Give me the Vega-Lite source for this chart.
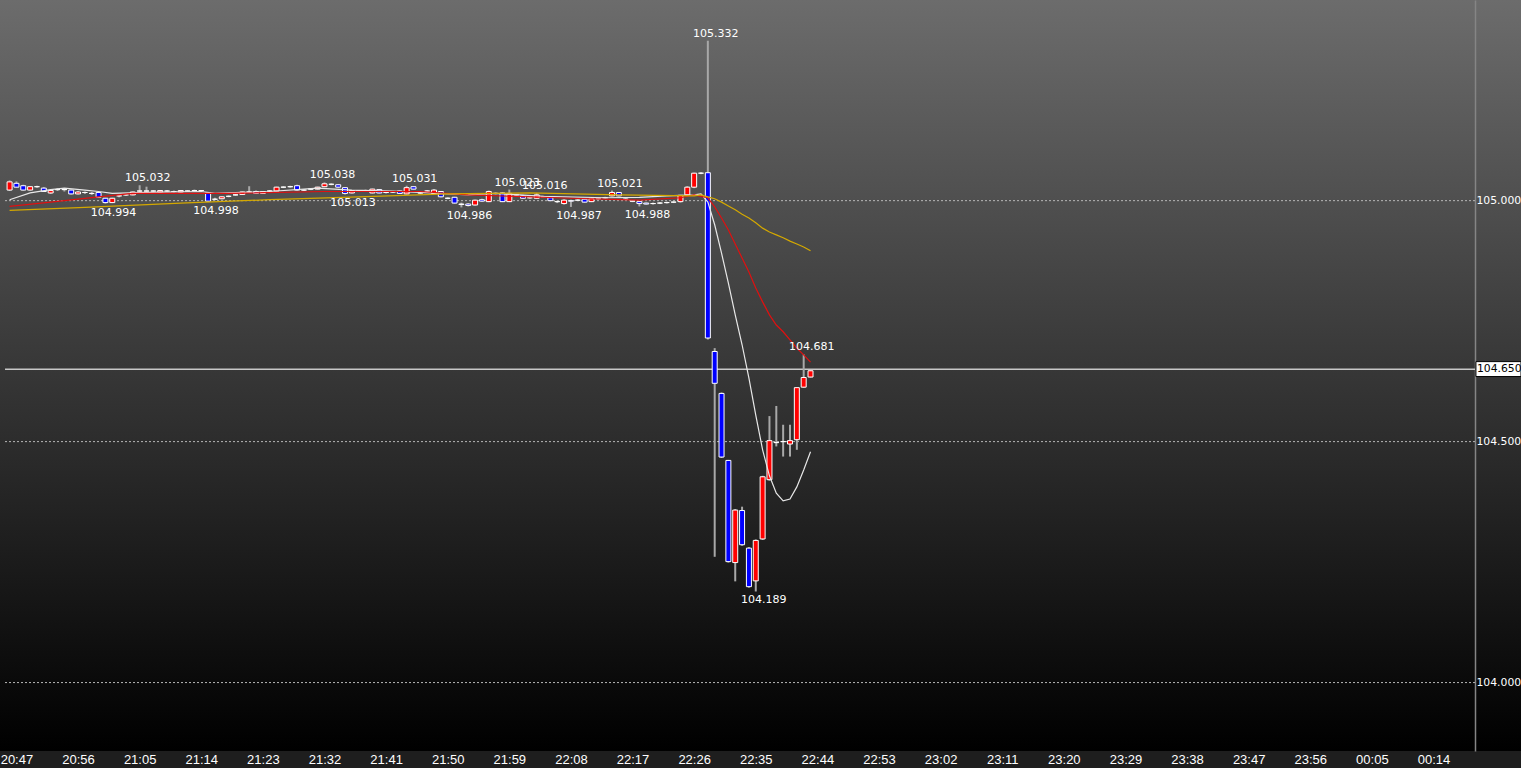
{
  "$schema": "https://vega.github.io/schema/vega-lite/v6.json",
  "width": 1521,
  "height": 751,
  "autosize": "none",
  "padding": {"left": 0, "top": 0, "right": 0, "bottom": 17},
  "background": "#1e1e1e",
  "config": {
    "view": {
      "stroke": null,
      "fill": {"gradient": "linear", "x1": 0, "y1": 0, "x2": 0, "y2": 1,
        "stops": [{"offset": 0, "color": "#6c6c6c"}, {"offset": 1, "color": "#000000"}]}
    },
    "text": {"font": "DejaVu Sans", "fontSize": 11}
  },
  "datasets": {
    "candles": [
      {"t":"2024-01-01T20:46","o":105.022,"h":105.042,"l":105.020,"c":105.039},
      {"t":"2024-01-01T20:47","o":105.036,"h":105.040,"l":105.027,"c":105.028},
      {"t":"2024-01-01T20:48","o":105.031,"h":105.033,"l":105.021,"c":105.022},
      {"t":"2024-01-01T20:49","o":105.022,"h":105.030,"l":105.021,"c":105.029},
      {"t":"2024-01-01T20:50","o":105.029,"h":105.031,"l":105.027,"c":105.029},
      {"t":"2024-01-01T20:51","o":105.026,"h":105.028,"l":105.018,"c":105.019},
      {"t":"2024-01-01T20:52","o":105.016,"h":105.023,"l":105.014,"c":105.021},
      {"t":"2024-01-01T20:53","o":105.023,"h":105.026,"l":105.020,"c":105.023},
      {"t":"2024-01-01T20:54","o":105.023,"h":105.025,"l":105.019,"c":105.023},
      {"t":"2024-01-01T20:55","o":105.022,"h":105.023,"l":105.013,"c":105.014},
      {"t":"2024-01-01T20:56","o":105.014,"h":105.020,"l":105.013,"c":105.018},
      {"t":"2024-01-01T20:57","o":105.017,"h":105.019,"l":105.014,"c":105.017},
      {"t":"2024-01-01T20:58","o":105.015,"h":105.018,"l":105.012,"c":105.015},
      {"t":"2024-01-01T20:59","o":105.017,"h":105.018,"l":105.006,"c":105.007},
      {"t":"2024-01-01T21:00","o":105.005,"h":105.006,"l":104.994,"c":104.996},
      {"t":"2024-01-01T21:01","o":104.996,"h":105.006,"l":104.995,"c":105.005},
      {"t":"2024-01-01T21:02","o":105.010,"h":105.012,"l":105.007,"c":105.010},
      {"t":"2024-01-01T21:03","o":105.012,"h":105.014,"l":105.010,"c":105.012},
      {"t":"2024-01-01T21:04","o":105.012,"h":105.019,"l":105.011,"c":105.018},
      {"t":"2024-01-01T21:05","o":105.020,"h":105.032,"l":105.018,"c":105.020},
      {"t":"2024-01-01T21:06","o":105.020,"h":105.029,"l":105.018,"c":105.020},
      {"t":"2024-01-01T21:07","o":105.020,"h":105.022,"l":105.017,"c":105.020},
      {"t":"2024-01-01T21:08","o":105.018,"h":105.022,"l":105.017,"c":105.021},
      {"t":"2024-01-01T21:09","o":105.020,"h":105.022,"l":105.018,"c":105.020},
      {"t":"2024-01-01T21:10","o":105.019,"h":105.021,"l":105.017,"c":105.019},
      {"t":"2024-01-01T21:11","o":105.018,"h":105.022,"l":105.017,"c":105.021},
      {"t":"2024-01-01T21:12","o":105.020,"h":105.022,"l":105.018,"c":105.020},
      {"t":"2024-01-01T21:13","o":105.021,"h":105.023,"l":105.019,"c":105.021},
      {"t":"2024-01-01T21:14","o":105.021,"h":105.022,"l":105.019,"c":105.021},
      {"t":"2024-01-01T21:15","o":105.016,"h":105.017,"l":104.998,"c":104.999},
      {"t":"2024-01-01T21:16","o":105.003,"h":105.006,"l":105.001,"c":105.003},
      {"t":"2024-01-01T21:17","o":105.004,"h":105.009,"l":105.003,"c":105.008},
      {"t":"2024-01-01T21:18","o":105.009,"h":105.011,"l":105.007,"c":105.009},
      {"t":"2024-01-01T21:19","o":105.012,"h":105.014,"l":105.010,"c":105.012},
      {"t":"2024-01-01T21:20","o":105.013,"h":105.019,"l":105.012,"c":105.018},
      {"t":"2024-01-01T21:21","o":105.018,"h":105.030,"l":105.017,"c":105.018},
      {"t":"2024-01-01T21:22","o":105.019,"h":105.021,"l":105.014,"c":105.015},
      {"t":"2024-01-01T21:23","o":105.015,"h":105.020,"l":105.014,"c":105.019},
      {"t":"2024-01-01T21:24","o":105.020,"h":105.022,"l":105.018,"c":105.020},
      {"t":"2024-01-01T21:25","o":105.020,"h":105.029,"l":105.019,"c":105.028},
      {"t":"2024-01-01T21:26","o":105.028,"h":105.030,"l":105.026,"c":105.028},
      {"t":"2024-01-01T21:27","o":105.029,"h":105.031,"l":105.027,"c":105.029},
      {"t":"2024-01-01T21:28","o":105.031,"h":105.033,"l":105.021,"c":105.022},
      {"t":"2024-01-01T21:29","o":105.022,"h":105.024,"l":105.020,"c":105.022},
      {"t":"2024-01-01T21:30","o":105.024,"h":105.026,"l":105.022,"c":105.024},
      {"t":"2024-01-01T21:31","o":105.024,"h":105.029,"l":105.023,"c":105.028},
      {"t":"2024-01-01T21:32","o":105.029,"h":105.038,"l":105.028,"c":105.035},
      {"t":"2024-01-01T21:33","o":105.034,"h":105.036,"l":105.032,"c":105.034},
      {"t":"2024-01-01T21:34","o":105.033,"h":105.034,"l":105.027,"c":105.028},
      {"t":"2024-01-01T21:35","o":105.027,"h":105.028,"l":105.013,"c":105.015},
      {"t":"2024-01-01T21:36","o":105.016,"h":105.022,"l":105.015,"c":105.021},
      {"t":"2024-01-01T21:37","o":105.020,"h":105.022,"l":105.018,"c":105.020},
      {"t":"2024-01-01T21:38","o":105.021,"h":105.023,"l":105.019,"c":105.021},
      {"t":"2024-01-01T21:39","o":105.016,"h":105.025,"l":105.015,"c":105.024},
      {"t":"2024-01-01T21:40","o":105.023,"h":105.024,"l":105.015,"c":105.016},
      {"t":"2024-01-01T21:41","o":105.017,"h":105.019,"l":105.015,"c":105.017},
      {"t":"2024-01-01T21:42","o":105.018,"h":105.020,"l":105.016,"c":105.018},
      {"t":"2024-01-01T21:43","o":105.020,"h":105.021,"l":105.014,"c":105.015},
      {"t":"2024-01-01T21:44","o":105.014,"h":105.031,"l":105.013,"c":105.027},
      {"t":"2024-01-01T21:45","o":105.029,"h":105.030,"l":105.023,"c":105.024},
      {"t":"2024-01-01T21:46","o":105.016,"h":105.018,"l":105.014,"c":105.016},
      {"t":"2024-01-01T21:47","o":105.020,"h":105.022,"l":105.018,"c":105.020},
      {"t":"2024-01-01T21:48","o":105.015,"h":105.024,"l":105.014,"c":105.022},
      {"t":"2024-01-01T21:49","o":105.019,"h":105.020,"l":105.007,"c":105.008},
      {"t":"2024-01-01T21:50","o":105.005,"h":105.007,"l":105.003,"c":105.005},
      {"t":"2024-01-01T21:51","o":105.007,"h":105.008,"l":104.994,"c":104.995},
      {"t":"2024-01-01T21:52","o":104.993,"h":104.996,"l":104.986,"c":104.992},
      {"t":"2024-01-01T21:53","o":104.993,"h":104.995,"l":104.988,"c":104.990},
      {"t":"2024-01-01T21:54","o":104.991,"h":105.002,"l":104.990,"c":105.001},
      {"t":"2024-01-01T21:55","o":105.002,"h":105.004,"l":104.998,"c":104.999},
      {"t":"2024-01-01T21:56","o":104.998,"h":105.021,"l":104.997,"c":105.019},
      {"t":"2024-01-01T21:57","o":105.015,"h":105.017,"l":105.013,"c":105.015},
      {"t":"2024-01-01T21:58","o":105.016,"h":105.018,"l":104.997,"c":104.998},
      {"t":"2024-01-01T21:59","o":104.998,"h":105.023,"l":104.997,"c":105.015},
      {"t":"2024-01-01T22:00","o":105.012,"h":105.014,"l":105.010,"c":105.012},
      {"t":"2024-01-01T22:01","o":105.010,"h":105.012,"l":105.004,"c":105.005},
      {"t":"2024-01-01T22:02","o":105.006,"h":105.008,"l":105.004,"c":105.006},
      {"t":"2024-01-01T22:03","o":105.005,"h":105.016,"l":105.004,"c":105.012},
      {"t":"2024-01-01T22:04","o":105.008,"h":105.010,"l":105.006,"c":105.008},
      {"t":"2024-01-01T22:05","o":105.006,"h":105.007,"l":104.999,"c":105.000},
      {"t":"2024-01-01T22:06","o":104.998,"h":105.000,"l":104.995,"c":104.998},
      {"t":"2024-01-01T22:07","o":104.994,"h":105.003,"l":104.992,"c":105.001},
      {"t":"2024-01-01T22:08","o":105.000,"h":105.002,"l":104.987,"c":104.999},
      {"t":"2024-01-01T22:09","o":105.001,"h":105.003,"l":104.999,"c":105.001},
      {"t":"2024-01-01T22:10","o":105.003,"h":105.004,"l":104.996,"c":104.997},
      {"t":"2024-01-01T22:11","o":104.998,"h":105.005,"l":104.997,"c":105.004},
      {"t":"2024-01-01T22:12","o":105.004,"h":105.006,"l":105.002,"c":105.004},
      {"t":"2024-01-01T22:13","o":105.006,"h":105.008,"l":105.004,"c":105.006},
      {"t":"2024-01-01T22:14","o":105.010,"h":105.021,"l":105.009,"c":105.017},
      {"t":"2024-01-01T22:15","o":105.017,"h":105.018,"l":105.009,"c":105.010},
      {"t":"2024-01-01T22:16","o":105.003,"h":105.005,"l":105.001,"c":105.003},
      {"t":"2024-01-01T22:17","o":104.999,"h":105.001,"l":104.997,"c":104.999},
      {"t":"2024-01-01T22:18","o":104.998,"h":104.999,"l":104.988,"c":104.994},
      {"t":"2024-01-01T22:19","o":104.995,"h":104.996,"l":104.992,"c":104.993},
      {"t":"2024-01-01T22:20","o":104.994,"h":104.996,"l":104.992,"c":104.994},
      {"t":"2024-01-01T22:21","o":104.995,"h":104.997,"l":104.993,"c":104.995},
      {"t":"2024-01-01T22:22","o":104.996,"h":104.998,"l":104.994,"c":104.996},
      {"t":"2024-01-01T22:23","o":104.997,"h":104.999,"l":104.995,"c":104.997},
      {"t":"2024-01-01T22:24","o":104.998,"h":105.012,"l":104.996,"c":105.011},
      {"t":"2024-01-01T22:25","o":105.012,"h":105.030,"l":105.010,"c":105.028},
      {"t":"2024-01-01T22:26","o":105.028,"h":105.058,"l":105.026,"c":105.057},
      {"t":"2024-01-01T22:27","o":105.057,"h":105.059,"l":105.055,"c":105.057},
      {"t":"2024-01-01T22:28","o":105.058,"h":105.332,"l":104.712,"c":104.715},
      {"t":"2024-01-01T22:29","o":104.687,"h":104.694,"l":104.261,"c":104.621},
      {"t":"2024-01-01T22:30","o":104.600,"h":104.602,"l":104.466,"c":104.468},
      {"t":"2024-01-01T22:31","o":104.461,"h":104.462,"l":104.249,"c":104.251},
      {"t":"2024-01-01T22:32","o":104.249,"h":104.360,"l":104.210,"c":104.358},
      {"t":"2024-01-01T22:33","o":104.357,"h":104.365,"l":104.284,"c":104.286},
      {"t":"2024-01-01T22:34","o":104.279,"h":104.281,"l":104.197,"c":104.199},
      {"t":"2024-01-01T22:35","o":104.211,"h":104.297,"l":104.189,"c":104.295},
      {"t":"2024-01-01T22:36","o":104.298,"h":104.429,"l":104.296,"c":104.427},
      {"t":"2024-01-01T22:37","o":104.421,"h":104.553,"l":104.419,"c":104.502},
      {"t":"2024-01-01T22:38","o":104.498,"h":104.574,"l":104.490,"c":104.498},
      {"t":"2024-01-01T22:39","o":104.500,"h":104.535,"l":104.469,"c":104.500},
      {"t":"2024-01-01T22:40","o":104.495,"h":104.535,"l":104.469,"c":104.502},
      {"t":"2024-01-01T22:41","o":104.504,"h":104.612,"l":104.483,"c":104.612},
      {"t":"2024-01-01T22:42","o":104.613,"h":104.681,"l":104.612,"c":104.633},
      {"t":"2024-01-01T22:43","o":104.634,"h":104.648,"l":104.633,"c":104.647}
    ],
    "ma": [
      {"s":"fast","t":"2024-01-01T20:46","v":105.002},{"s":"fast","t":"2024-01-01T20:49","v":105.016},{"s":"fast","t":"2024-01-01T20:52","v":105.023},
      {"s":"fast","t":"2024-01-01T20:54","v":105.026},{"s":"fast","t":"2024-01-01T20:57","v":105.022},{"s":"fast","t":"2024-01-01T20:59","v":105.019},
      {"s":"fast","t":"2024-01-01T21:01","v":105.015},{"s":"fast","t":"2024-01-01T21:06","v":105.017},{"s":"fast","t":"2024-01-01T21:14","v":105.019},
      {"s":"fast","t":"2024-01-01T21:16","v":105.015},{"s":"fast","t":"2024-01-01T21:20","v":105.017},{"s":"fast","t":"2024-01-01T21:24","v":105.019},
      {"s":"fast","t":"2024-01-01T21:31","v":105.026},{"s":"fast","t":"2024-01-01T21:36","v":105.022},{"s":"fast","t":"2024-01-01T21:42","v":105.020},
      {"s":"fast","t":"2024-01-01T21:49","v":105.015},{"s":"fast","t":"2024-01-01T21:53","v":105.012},{"s":"fast","t":"2024-01-01T21:57","v":105.015},
      {"s":"fast","t":"2024-01-01T22:04","v":105.009},{"s":"fast","t":"2024-01-01T22:13","v":105.006},{"s":"fast","t":"2024-01-01T22:18","v":105.007},
      {"s":"fast","t":"2024-01-01T22:22","v":105.010},{"s":"fast","t":"2024-01-01T22:26","v":105.012},{"s":"fast","t":"2024-01-01T22:27","v":105.014},
      {"s":"fast","t":"2024-01-01T22:28","v":104.997},{"s":"fast","t":"2024-01-01T22:29","v":104.950},{"s":"fast","t":"2024-01-01T22:30","v":104.891},
      {"s":"fast","t":"2024-01-01T22:31","v":104.829},{"s":"fast","t":"2024-01-01T22:32","v":104.763},{"s":"fast","t":"2024-01-01T22:33","v":104.701},
      {"s":"fast","t":"2024-01-01T22:34","v":104.632},{"s":"fast","t":"2024-01-01T22:35","v":104.555},{"s":"fast","t":"2024-01-01T22:36","v":104.483},
      {"s":"fast","t":"2024-01-01T22:37","v":104.429},{"s":"fast","t":"2024-01-01T22:38","v":104.393},{"s":"fast","t":"2024-01-01T22:39","v":104.377},
      {"s":"fast","t":"2024-01-01T22:40","v":104.381},{"s":"fast","t":"2024-01-01T22:41","v":104.406},{"s":"fast","t":"2024-01-01T22:42","v":104.441},
      {"s":"fast","t":"2024-01-01T22:43","v":104.479},
      {"s":"mid","t":"2024-01-01T20:46","v":104.988},{"s":"mid","t":"2024-01-01T20:52","v":104.997},{"s":"mid","t":"2024-01-01T20:59","v":105.008},
      {"s":"mid","t":"2024-01-01T21:04","v":105.015},{"s":"mid","t":"2024-01-01T21:18","v":105.015},{"s":"mid","t":"2024-01-01T21:32","v":105.019},
      {"s":"mid","t":"2024-01-01T21:46","v":105.019},{"s":"mid","t":"2024-01-01T21:53","v":105.012},{"s":"mid","t":"2024-01-01T22:08","v":105.005},
      {"s":"mid","t":"2024-01-01T22:18","v":105.001},{"s":"mid","t":"2024-01-01T22:24","v":105.006},{"s":"mid","t":"2024-01-01T22:26","v":105.012},
      {"s":"mid","t":"2024-01-01T22:27","v":105.009},{"s":"mid","t":"2024-01-01T22:28","v":105.006},{"s":"mid","t":"2024-01-01T22:29","v":104.987},
      {"s":"mid","t":"2024-01-01T22:30","v":104.964},{"s":"mid","t":"2024-01-01T22:31","v":104.939},{"s":"mid","t":"2024-01-01T22:32","v":104.910},
      {"s":"mid","t":"2024-01-01T22:33","v":104.881},{"s":"mid","t":"2024-01-01T22:34","v":104.852},{"s":"mid","t":"2024-01-01T22:35","v":104.819},
      {"s":"mid","t":"2024-01-01T22:36","v":104.790},{"s":"mid","t":"2024-01-01T22:37","v":104.763},{"s":"mid","t":"2024-01-01T22:38","v":104.742},
      {"s":"mid","t":"2024-01-01T22:39","v":104.728},{"s":"mid","t":"2024-01-01T22:40","v":104.711},{"s":"mid","t":"2024-01-01T22:41","v":104.694},
      {"s":"mid","t":"2024-01-01T22:42","v":104.680},{"s":"mid","t":"2024-01-01T22:43","v":104.665},
      {"s":"slow","t":"2024-01-01T20:46","v":104.980},{"s":"slow","t":"2024-01-01T20:57","v":104.986},{"s":"slow","t":"2024-01-01T21:11","v":104.995},
      {"s":"slow","t":"2024-01-01T21:24","v":105.002},{"s":"slow","t":"2024-01-01T21:37","v":105.008},{"s":"slow","t":"2024-01-01T21:50","v":105.014},
      {"s":"slow","t":"2024-01-01T22:02","v":105.016},{"s":"slow","t":"2024-01-01T22:15","v":105.012},{"s":"slow","t":"2024-01-01T22:26","v":105.010},
      {"s":"slow","t":"2024-01-01T22:27","v":105.012},{"s":"slow","t":"2024-01-01T22:28","v":105.008},{"s":"slow","t":"2024-01-01T22:29","v":105.004},
      {"s":"slow","t":"2024-01-01T22:30","v":104.997},{"s":"slow","t":"2024-01-01T22:31","v":104.989},{"s":"slow","t":"2024-01-01T22:32","v":104.981},
      {"s":"slow","t":"2024-01-01T22:33","v":104.972},{"s":"slow","t":"2024-01-01T22:34","v":104.964},{"s":"slow","t":"2024-01-01T22:35","v":104.954},
      {"s":"slow","t":"2024-01-01T22:36","v":104.943},{"s":"slow","t":"2024-01-01T22:37","v":104.935},{"s":"slow","t":"2024-01-01T22:38","v":104.929},
      {"s":"slow","t":"2024-01-01T22:39","v":104.923},{"s":"slow","t":"2024-01-01T22:40","v":104.916},{"s":"slow","t":"2024-01-01T22:41","v":104.910},
      {"s":"slow","t":"2024-01-01T22:42","v":104.904},{"s":"slow","t":"2024-01-01T22:43","v":104.896}
    ],
    "marks": [
      {"t":"2024-01-01T21:05","v":105.032,"kind":"high"},
      {"t":"2024-01-01T21:00","v":104.994,"kind":"low"},
      {"t":"2024-01-01T21:15","v":104.998,"kind":"low"},
      {"t":"2024-01-01T21:32","v":105.038,"kind":"high"},
      {"t":"2024-01-01T21:35","v":105.013,"kind":"low"},
      {"t":"2024-01-01T21:44","v":105.031,"kind":"high"},
      {"t":"2024-01-01T21:52","v":104.986,"kind":"low"},
      {"t":"2024-01-01T21:59","v":105.023,"kind":"high"},
      {"t":"2024-01-01T22:03","v":105.016,"kind":"high"},
      {"t":"2024-01-01T22:08","v":104.987,"kind":"low"},
      {"t":"2024-01-01T22:14","v":105.021,"kind":"high"},
      {"t":"2024-01-01T22:18","v":104.988,"kind":"low"},
      {"t":"2024-01-01T22:28","v":105.332,"kind":"high"},
      {"t":"2024-01-01T22:35","v":104.189,"kind":"low"},
      {"t":"2024-01-01T22:42","v":104.681,"kind":"high"}
    ],
    "levels": [
      {"start":"2024-01-01T20:45:20","end":"2024-01-02T00:20:04","p":105.0,"kind":"grid"},
      {"start":"2024-01-01T20:45:20","end":"2024-01-02T00:20:04","p":104.5,"kind":"grid"},
      {"start":"2024-01-01T20:45:20","end":"2024-01-02T00:20:04","p":104.0,"kind":"grid"},
      {"start":"2024-01-01T20:45:20","end":"2024-01-02T00:20:04","p":104.65,"kind":"last"}
    ],
    "tag": [
      {"start":"2024-01-02T00:20:12","end":"2024-01-02T00:26:47","p":104.65,"top":104.666,"bot":104.635}
    ]
  },
  "layer": [
    {
      "data": {"name": "levels"},
      "transform": [{"filter": "datum.kind == 'grid'"}],
      "mark": {"type": "rule", "color": "#b8b8b8", "strokeWidth": 1, "strokeDash": [2, 2]},
      "encoding": {
        "x": {"field": "start", "type": "temporal",
          "scale": {"domain": [
            {"year":2024,"month":1,"date":1,"hours":20,"minutes":44,"seconds":36},
            {"year":2024,"month":1,"date":2,"hours":0,"minutes":26,"seconds":47}], "nice": false, "padding": 0},
          "axis": {
            "title": null, "format": "%H:%M", "domain": false, "ticks": false, "grid": false,
            "labelColor": "#ffffff", "labelFont": "Liberation Sans", "labelFontSize": 13,
            "labelPadding": 2, "labelOverlap": false, "labelBound": false, "labelFlush": false,
            "values": [
              {"year":2024,"month":1,"date":1,"hours":20,"minutes":47},
              {"year":2024,"month":1,"date":1,"hours":20,"minutes":56},
              {"year":2024,"month":1,"date":1,"hours":21,"minutes":5},
              {"year":2024,"month":1,"date":1,"hours":21,"minutes":14},
              {"year":2024,"month":1,"date":1,"hours":21,"minutes":23},
              {"year":2024,"month":1,"date":1,"hours":21,"minutes":32},
              {"year":2024,"month":1,"date":1,"hours":21,"minutes":41},
              {"year":2024,"month":1,"date":1,"hours":21,"minutes":50},
              {"year":2024,"month":1,"date":1,"hours":21,"minutes":59},
              {"year":2024,"month":1,"date":1,"hours":22,"minutes":8},
              {"year":2024,"month":1,"date":1,"hours":22,"minutes":17},
              {"year":2024,"month":1,"date":1,"hours":22,"minutes":26},
              {"year":2024,"month":1,"date":1,"hours":22,"minutes":35},
              {"year":2024,"month":1,"date":1,"hours":22,"minutes":44},
              {"year":2024,"month":1,"date":1,"hours":22,"minutes":53},
              {"year":2024,"month":1,"date":1,"hours":23,"minutes":2},
              {"year":2024,"month":1,"date":1,"hours":23,"minutes":11},
              {"year":2024,"month":1,"date":1,"hours":23,"minutes":20},
              {"year":2024,"month":1,"date":1,"hours":23,"minutes":29},
              {"year":2024,"month":1,"date":1,"hours":23,"minutes":38},
              {"year":2024,"month":1,"date":1,"hours":23,"minutes":47},
              {"year":2024,"month":1,"date":1,"hours":23,"minutes":56},
              {"year":2024,"month":1,"date":2,"hours":0,"minutes":5},
              {"year":2024,"month":1,"date":2,"hours":0,"minutes":14}
            ]
          }
        },
        "x2": {"field": "end"},
        "y": {"field": "p", "type": "quantitative",
          "scale": {"domain": [103.858, 105.4164], "nice": false, "zero": false, "padding": 0},
          "axis": {"orient": "right", "offset": -46, "title": null, "grid": false, "ticks": false,
            "domainColor": "#858585", "domainWidth": 1.5,
            "values": [104.0, 104.5, 105.0], "format": ".3f",
            "labelColor": "#ffffff", "labelFont": "DejaVu Sans", "labelFontSize": 10.8,
            "labelPadding": 1, "labelAlign": "left", "labelBaseline": "middle"}}
      }
    },
    {
      "data": {"name": "levels"},
      "transform": [{"filter": "datum.kind == 'last'"}],
      "mark": {"type": "rule", "color": "#c8c8c8", "strokeWidth": 1.5},
      "encoding": {
        "x": {"field": "start", "type": "temporal"},
        "x2": {"field": "end"},
        "y": {"field": "p", "type": "quantitative"}
      }
    },
    {
      "data": {"name": "candles"},
      "layer": [
        {
          "mark": {"type": "rule", "color": "#a8a8a8", "strokeWidth": 2},
          "encoding": {
            "x": {"field": "t", "type": "temporal"},
            "y": {"field": "l", "type": "quantitative"},
            "y2": {"field": "h"}
          }
        },
        {
          "mark": {"type": "bar", "size": 5, "stroke": "#ffffff", "strokeWidth": 1},
          "encoding": {
            "x": {"field": "t", "type": "temporal"},
            "y": {"field": "o", "type": "quantitative"},
            "y2": {"field": "c"},
            "color": {
              "condition": [
                {"test": "datum.c > datum.o", "value": "#ff0000"},
                {"test": "datum.c < datum.o", "value": "#0000ff"}
              ],
              "value": "#ffffff"
            }
          }
        }
      ]
    },
    {
      "data": {"name": "ma"},
      "mark": {"type": "line", "strokeWidth": 1.2},
      "encoding": {
        "x": {"field": "t", "type": "temporal"},
        "y": {"field": "v", "type": "quantitative"},
        "color": {"field": "s", "type": "nominal", "legend": null,
          "scale": {"domain": ["fast", "mid", "slow"], "range": ["#e8e8e8", "#e01010", "#d4a800"]}}
      }
    },
    {
      "data": {"name": "marks"},
      "layer": [
        {
          "transform": [{"filter": "datum.kind == 'high'"}],
          "mark": {"type": "text", "color": "#ffffff", "baseline": "bottom", "dy": -2, "dx": 8},
          "encoding": {
            "x": {"field": "t", "type": "temporal"},
            "y": {"field": "v", "type": "quantitative"},
            "text": {"field": "v", "type": "quantitative", "format": ".3f"}
          }
        },
        {
          "transform": [{"filter": "datum.kind == 'low'"}],
          "mark": {"type": "text", "color": "#ffffff", "baseline": "top", "dy": 3, "dx": 8},
          "encoding": {
            "x": {"field": "t", "type": "temporal"},
            "y": {"field": "v", "type": "quantitative"},
            "text": {"field": "v", "type": "quantitative", "format": ".3f"}
          }
        }
      ]
    },
    {
      "data": {"name": "tag"},
      "layer": [
        {
          "mark": {"type": "rect", "fill": "#ffffff", "stroke": "#000000", "strokeWidth": 1},
          "encoding": {
            "x": {"field": "start", "type": "temporal"},
            "x2": {"field": "end"},
            "y": {"field": "top", "type": "quantitative"},
            "y2": {"field": "bot"}
          }
        },
        {
          "mark": {"type": "text", "color": "#000000", "align": "left", "baseline": "middle", "dx": 1, "fontSize": 10.8},
          "encoding": {
            "x": {"field": "start", "type": "temporal"},
            "y": {"field": "p", "type": "quantitative"},
            "text": {"field": "p", "type": "quantitative", "format": ".3f"}
          }
        }
      ]
    }
  ]
}
